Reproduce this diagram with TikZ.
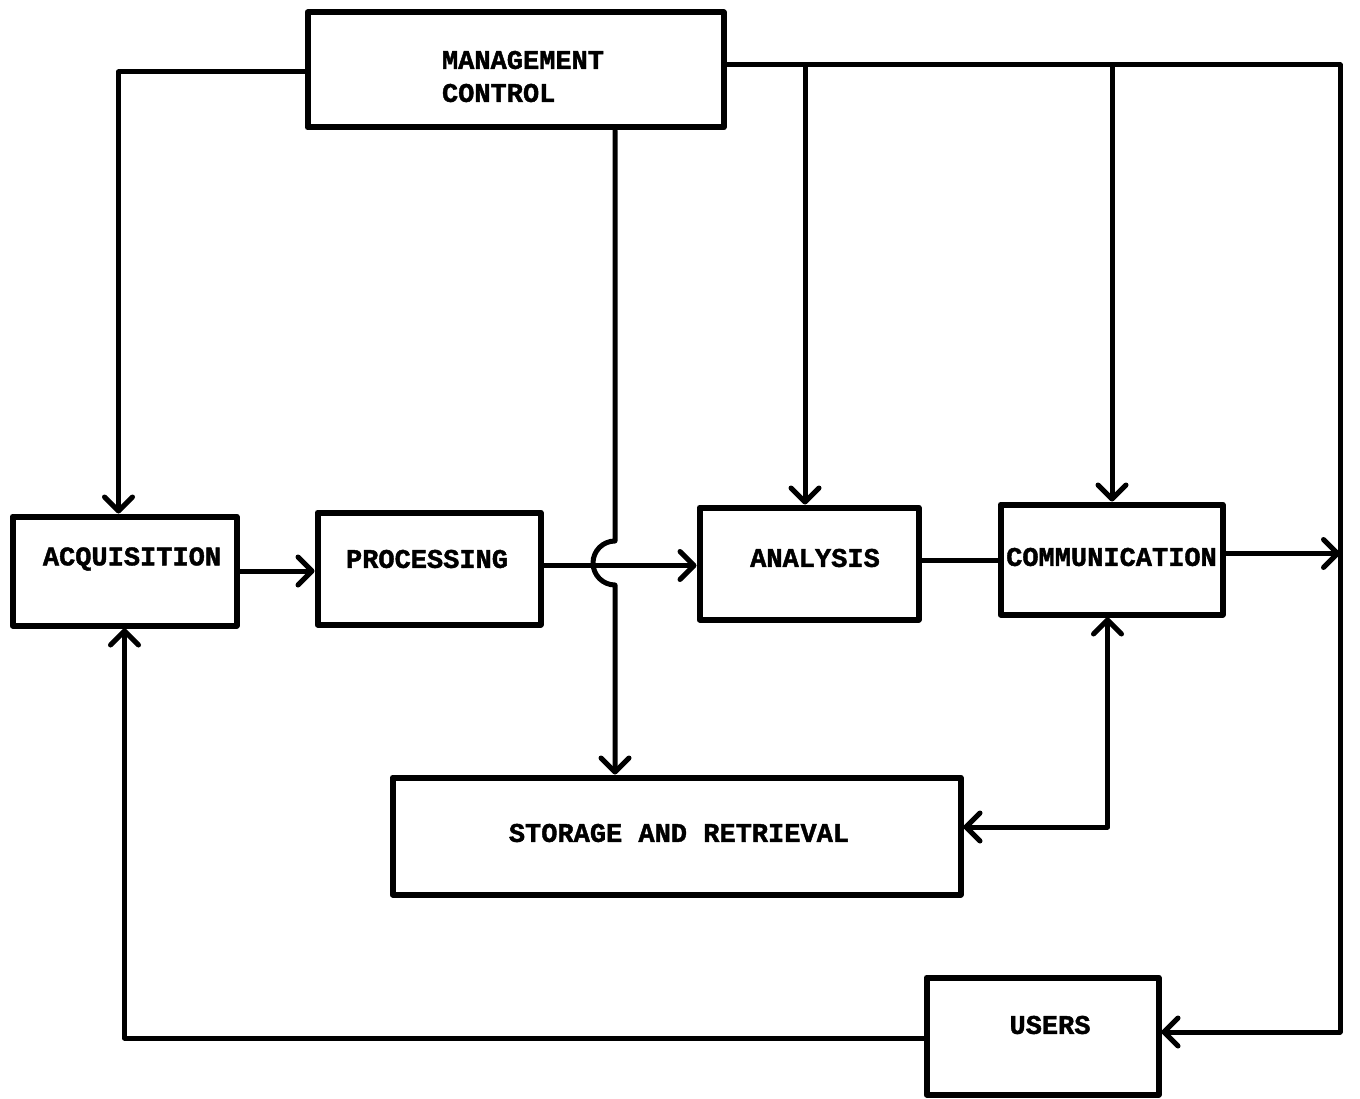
\documentclass[tikz,border=0pt]{standalone}
\usepackage{fontspec}
\setmonofont[BoldFeatures={FakeBold=1.5}]{Liberation Mono}
\usetikzlibrary{arrows.meta}
\tikzset{
  box/.style={draw, line width=6pt, line join=round, inner sep=0pt},
  lbl/.style={font=\ttfamily\bfseries\fontsize{27}{33}\selectfont, inner sep=0pt},
  wire/.style={line width=5pt, line join=round, line cap=round},
  >={Straight Barb[length=14pt, width=28pt, line cap=round, line join=round]}
}
\begin{document}
\begin{tikzpicture}[x=1pt, y=-1pt]
\useasboundingbox (0,0) rectangle (1360,1099);

% blocks of the system
\node[box, minimum width=416pt, minimum height=115pt] (mc) at (515.5,70) {};
\node[lbl, align=left] (mctext) at (523,76.5) {MANAGEMENT\\CONTROL};
\node[box, minimum width=224pt, minimum height=109pt,
      label={[lbl, xshift=7.5pt, yshift=12pt]center:ACQUISITION}] (acq) at (124.5,571) {};
\node[box, minimum width=223pt, minimum height=112pt,
      label={[lbl, xshift=-2pt, yshift=9.5pt]center:PROCESSING}] (proc) at (429,568.5) {};
\node[box, minimum width=219pt, minimum height=112pt,
      label={[lbl, xshift=6pt, yshift=5.5pt]center:ANALYSIS}] (ana) at (809,563.5) {};
\node[box, minimum width=222pt, minimum height=110pt,
      label={[lbl, xshift=0pt, yshift=2.5pt]center:COMMUNICATION}] (com) at (1111.5,559.5) {};
\node[box, minimum width=568pt, minimum height=117pt,
      label={[lbl, xshift=2.5pt, yshift=3pt]center:STORAGE AND RETRIEVAL}] (sr) at (676.5,836) {};
\node[box, minimum width=232pt, minimum height=117pt,
      label={[lbl, xshift=7.5pt, yshift=11pt]center:USERS}] (users) at (1042.5,1036) {};

% junctions on the control bus
\coordinate (tr) at (1340,65);
\coordinate (br) at (1340,1032);
\coordinate (ja) at (805,65);
\coordinate (jc) at (1112,65);
\coordinate (hopt) at (615,541);
\coordinate (hopb) at (615,585);

% control lines from management
\draw[wire, ->] ([yshift=-2pt]mc.west) -| ([xshift=-6pt]acq.north);
\draw[wire] ([yshift=5pt]mc.east) -- (tr) -- (br);
\draw[wire, ->] (br) -- (br -| users.east);
\draw[wire, ->] (ja) -- (ja |- ana.north);
\draw[wire, ->] (jc) -- (jc |- com.north);
\draw[wire, ->] (mc.south -| hopt) -- (hopt)
  arc[start angle=90, end angle=270, radius=22pt] -- (hopb |- sr.north);

% main flow
\draw[wire, ->] (acq.east) -- (acq.east -| proc.west);
\draw[wire, ->] ([yshift=3pt]proc.east) -- ([yshift=3pt]proc.east -| ana.west);
\draw[wire] ([yshift=3pt]ana.east) -- ([yshift=3pt]ana.east -| com.west);
\draw[wire, ->] ([yshift=6pt]com.east) -- ([yshift=6pt]com.east -| tr);
\draw[wire, <->] ([yshift=9pt]sr.east) -| ([xshift=-4pt]com.south);
\draw[wire, ->] ([yshift=-2pt]users.west) -| (acq.south);
\end{tikzpicture}
\end{document}
